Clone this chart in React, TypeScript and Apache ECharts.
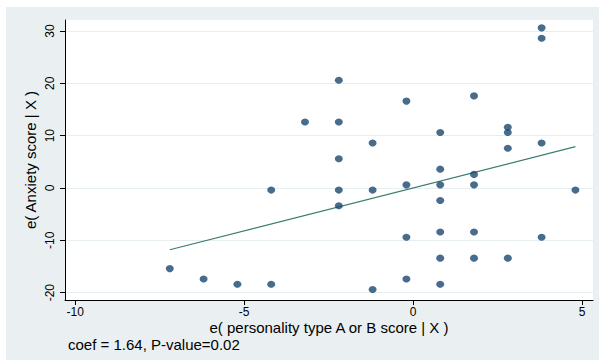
import React, { useEffect, useRef } from "react";
import * as echarts from "echarts";

const xValues = [
  -7.2, -6.2, -5.2, -4.2, -4.2, -3.2, -2.2, -2.2, -2.2, -2.2, -2.2, -1.2, -1.2,
  -1.2, -0.2, -0.2, -0.2, -0.2, 0.8, 0.8, 0.8, 0.8, 0.8, 0.8, 0.8, 1.8, 1.8,
  1.8, 1.8, 1.8, 2.8, 2.8, 2.8, 2.8, 3.8, 3.8, 3.8, 3.8, 4.8,
];
const yValues = [
  -15.4, -17.4, -18.4, -18.4, -0.4, 12.6, 20.6, 12.6, 5.6, -0.4, -3.4, 8.6,
  -0.4, -19.4, 16.6, 0.6, -9.4, -17.4, 10.6, 3.6, 0.6, -2.4, -8.4, -13.4, -18.4,
  17.6, 2.6, 0.6, -8.4, -13.4, 11.6, 10.6, 7.6, -13.4, 30.6, 28.6, 8.6, -9.4,
  -0.4,
];
const fitX = [-7.2, 4.8];
const fitY = [-11.8, 7.9];
const xTicks = [-10, -5, 0, 5];
const yTicks = [-20, -10, 0, 10, 20, 30];
const xTitle = "e( personality type A or B score | X )";
const yTitle = "e( Anxiety score | X )";
const note = "coef = 1.64, P-value=0.02";

export default function App() {
  const ref = useRef<HTMLDivElement>(null);
  useEffect(() => {
    if (!ref.current) return;
    const chart = echarts.init(ref.current, null, { renderer: "svg" });
    const font = "Liberation Sans, Arial, sans-serif";
    chart.setOption({
      animation: false,
      backgroundColor: "#ffffff",
      textStyle: { fontFamily: font },
      graphic: [
        {
          type: "rect",
          z: -10,
          silent: true,
          shape: { x: 6, y: 7, width: 593, height: 353 },
          style: { fill: "#eaf0f2" },
        },
        {
          type: "text",
          left: 68,
          top: 337,
          style: { text: note, fill: "#000", font: `15px ${font}` },
        },
      ],
      grid: {
        left: 65,
        right: 6,
        top: 20,
        bottom: 60,
        show: true,
        backgroundColor: "#ffffff",
        borderWidth: 0,
      },
      xAxis: {
        type: "value",
        min: -10.3,
        max: 5.32,
        name: xTitle,
        nameLocation: "middle",
        nameGap: 20,
        nameMoveOverlap: false,
        nameTextStyle: { color: "#000", fontSize: 15, fontFamily: font },
        axisLine: { show: true, onZero: false, lineStyle: { color: "#000", width: 1 } },
        axisTick: { show: true, length: 5, customValues: xTicks, lineStyle: { color: "#000" } },
        axisLabel: { customValues: xTicks, color: "#000", fontSize: 12, margin: 6, fontFamily: font },
        splitLine: { show: false },
      },
      yAxis: {
        type: "value",
        min: -21.4,
        max: 32.1,
        name: yTitle,
        nameLocation: "middle",
        nameGap: 27,
        nameMoveOverlap: false,
        nameRotate: 90,
        nameTextStyle: { color: "#000", fontSize: 15, fontFamily: font },
        axisLine: { show: true, onZero: false, lineStyle: { color: "#000", width: 1 } },
        axisTick: { show: true, length: 5, customValues: yTicks, lineStyle: { color: "#000" } },
        axisLabel: {
          customValues: yTicks,
          color: "#000",
          fontSize: 12,
          rotate: 90,
          margin: 9,
          fontFamily: font,
        },
        splitLine: { show: true, lineStyle: { color: "#e6eef0", width: 1 } },
      },
      series: [
        {
          type: "line",
          data: fitX.map((x, i) => [x, fitY[i]]),
          symbol: "none",
          lineStyle: { color: "#3a7d6e", width: 1.2 },
          z: 2,
        },
        {
          type: "scatter",
          data: xValues.map((x, i) => [x, yValues[i]]),
          symbol: "circle",
          symbolSize: [8, 7],
          itemStyle: { color: "#1a476f" },
          z: 3,
        },
      ],
    });
    return () => chart.dispose();
  }, []);
  return (
    <div
      ref={ref}
      style={{ position: "fixed", left: 0, top: 0, width: 599, height: 360 }}
    />
  );
}
